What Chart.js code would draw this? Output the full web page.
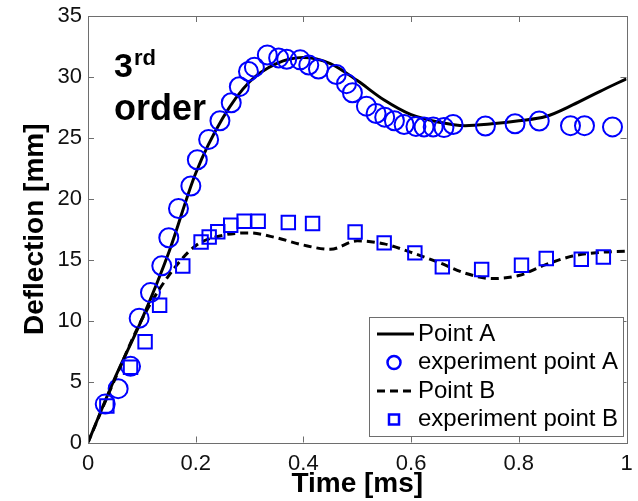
<!DOCTYPE html>
<html>
<head>
<meta charset="utf-8">
<script src="https://cdn.jsdelivr.net/npm/chart.js@4/dist/chart.umd.min.js"></script>
<style>
  html, body { margin: 0; padding: 0; background: #fff; }
  #wrap { width: 638px; height: 501px; }
</style>
</head>
<body>
<div id="wrap"><canvas id="deflectionChart" width="638" height="501"></canvas></div>
<script>
// model curves (time in ms, deflection in mm)
var curveTime = [0, 0.05, 0.1, 0.15, 0.2, 0.25, 0.3, 0.35, 0.4, 0.45, 0.5, 0.55, 0.6, 0.65, 0.7, 0.75, 0.8, 0.85, 0.9, 0.95, 1.0];
var pointA = [0, 5.3, 10.1, 15.6, 22.1, 26.6, 29.6, 31.1, 31.6, 31.1, 29.7, 28.1, 26.9, 26.3, 26.0, 26.15, 26.4, 26.75, 27.7, 28.8, 29.85];
var pointB = [0, 5.2, 10.1, 13.7, 16.15, 17.0, 17.2, 16.8, 16.2, 15.85, 16.55, 16.3, 15.6, 14.8, 13.9, 13.45, 13.7, 14.6, 15.3, 15.6, 15.7];

// experiment, point A
var expATime = [0.032, 0.056, 0.079, 0.095, 0.116, 0.137, 0.150, 0.168, 0.191, 0.203, 0.224, 0.245, 0.266, 0.281, 0.298, 0.309, 0.333, 0.354, 0.369, 0.394, 0.410, 0.428, 0.461, 0.480, 0.491, 0.517, 0.535, 0.551, 0.569, 0.587, 0.609, 0.624, 0.641, 0.661, 0.678, 0.738, 0.793, 0.838, 0.896, 0.922, 0.974];
var expA = [3.15, 4.42, 6.25, 10.2, 12.3, 14.5, 16.8, 19.2, 21.05, 23.2, 24.87, 26.4, 27.88, 29.2, 30.45, 30.8, 31.8, 31.56, 31.45, 31.4, 30.97, 30.65, 30.2, 29.45, 28.7, 27.6, 27.0, 26.7, 26.4, 26.1, 25.94, 25.9, 25.9, 25.84, 26.1, 25.97, 26.16, 26.38, 26.0, 26.0, 25.9];

// experiment, point B
var expBTime = [0.035, 0.079, 0.106, 0.133, 0.176, 0.210, 0.225, 0.241, 0.265, 0.290, 0.316, 0.372, 0.417, 0.496, 0.550, 0.607, 0.658, 0.731, 0.805, 0.851, 0.916, 0.957];
var expB = [3.0, 6.17, 8.27, 11.27, 14.49, 16.45, 16.86, 17.3, 17.83, 18.16, 18.16, 18.05, 17.97, 17.28, 16.38, 15.56, 14.41, 14.2, 14.55, 15.1, 15.04, 15.23];

var xTicks = [0, 0.2, 0.4, 0.6, 0.8, 1];
var yTicks = [0, 5, 10, 15, 20, 25, 30, 35];

var FONT = "'Liberation Sans', Arial, Helvetica, sans-serif";
var BLUE = '#0000ff';

function pairs(xs, ys) {
    return xs.map(function (x, i) { return { x: x, y: ys[i] }; });
}

// MATLAB style box with inward ticks on all four sides
var boxTicks = {
    id: 'boxTicks',
    afterDatasetsDraw: function (chart) {
        var ctx = chart.ctx, a = chart.chartArea;
        var sx = chart.scales.x, sy = chart.scales.y, len = 6;
        ctx.save();
        ctx.strokeStyle = '#6e6e6e';
        ctx.lineWidth = 1;
        ctx.beginPath();
        xTicks.forEach(function (v) {
            var px = Math.round(sx.getPixelForValue(v)) + 0.5;
            ctx.moveTo(px, a.bottom); ctx.lineTo(px, a.bottom - len);
            ctx.moveTo(px, a.top); ctx.lineTo(px, a.top + len);
        });
        yTicks.forEach(function (v) {
            var py = Math.round(sy.getPixelForValue(v)) + 0.5;
            ctx.moveTo(a.left, py); ctx.lineTo(a.left + len, py);
            ctx.moveTo(a.right, py); ctx.lineTo(a.right - len, py);
        });
        ctx.stroke();
        ctx.strokeRect(Math.round(a.left) + 0.5, Math.round(a.top) + 0.5,
            Math.round(a.right - a.left), Math.round(a.bottom - a.top));
        ctx.restore();
    }
};

// legend box inside the axes, lower right
var boxLegend = {
    id: 'boxLegend',
    afterDraw: function (chart) {
        var ctx = chart.ctx;
        var bx = 369.5, by = 317.5, bw = 254, bh = 119;
        ctx.save();
        ctx.fillStyle = '#fff';
        ctx.fillRect(bx, by, bw, bh);
        ctx.strokeStyle = '#6e6e6e';
        ctx.lineWidth = 1;
        ctx.strokeRect(bx, by, bw, bh);
        var rows = [334, 362.5, 391, 419.5];
        chart.data.datasets.forEach(function (ds, i) {
            var y = rows[i];
            if (ds.showLine) {
                ctx.strokeStyle = ds.borderColor;
                ctx.lineWidth = 3;
                ctx.setLineDash(ds.borderDash || []);
                ctx.beginPath();
                ctx.moveTo(377, y); ctx.lineTo(414, y);
                ctx.stroke();
                ctx.setLineDash([]);
            } else {
                ctx.strokeStyle = ds.borderColor;
                ctx.lineWidth = 2.5;
                ctx.beginPath();
                if (ds.pointStyle === 'rect') {
                    ctx.rect(389, y - 5, 10, 10);
                } else {
                    ctx.arc(394, y, 6.5, 0, Math.PI * 2);
                }
                ctx.stroke();
            }
            ctx.fillStyle = '#000';
            ctx.font = '24px ' + FONT;
            ctx.textBaseline = 'middle';
            ctx.textAlign = 'left';
            ctx.fillText(ds.label, 418, y);
        });
        ctx.restore();
    }
};

// "3rd order" note
var orderNote = {
    id: 'orderNote',
    afterDraw: function (chart) {
        var ctx = chart.ctx;
        ctx.save();
        ctx.fillStyle = '#000';
        ctx.textBaseline = 'alphabetic';
        ctx.font = 'bold 34px ' + FONT;
        ctx.fillText('3', 114, 77);
        var w = ctx.measureText('3').width;
        ctx.font = 'bold 22px ' + FONT;
        ctx.fillText('rd', 114 + w + 1, 65);
        ctx.font = 'bold 36px ' + FONT;
        ctx.fillText('order', 114, 120);
        ctx.restore();
    }
};

var ctx = document.getElementById('deflectionChart').getContext('2d');
var chart = new Chart(ctx, {
    type: 'scatter',
    data: {
        datasets: [{
            label: 'Point A',
            data: pairs(curveTime, pointA),
            showLine: true,
            borderColor: '#000',
            borderWidth: 3,
            pointRadius: 0,
            cubicInterpolationMode: 'monotone',
            order: 4
        }, {
            label: 'experiment point A',
            data: pairs(expATime, expA),
            showLine: false,
            pointStyle: 'circle',
            pointRadius: 9.5,
            pointBorderWidth: 2,
            borderColor: BLUE,
            pointBorderColor: BLUE,
            pointBackgroundColor: 'rgba(0,0,0,0)',
            order: 3
        }, {
            label: 'Point B',
            data: pairs(curveTime, pointB),
            showLine: true,
            borderColor: '#000',
            borderWidth: 3,
            borderDash: [8, 5],
            pointRadius: 0,
            cubicInterpolationMode: 'monotone',
            order: 2
        }, {
            label: 'experiment point B',
            data: pairs(expBTime, expB),
            showLine: false,
            pointStyle: 'rect',
            pointRadius: 9.5,
            pointBorderWidth: 2,
            borderColor: BLUE,
            pointBorderColor: BLUE,
            pointBackgroundColor: 'rgba(0,0,0,0)',
            order: 1
        }]
    },
    options: {
        responsive: false,
        animation: false,
        devicePixelRatio: 1,
        layout: { padding: { top: 16, right: 9, left: 0, bottom: 0 } },
        plugins: {
            legend: { display: false },
            tooltip: { enabled: false }
        },
        scales: {
            x: {
                type: 'linear',
                min: 0, max: 1,
                afterFit: function (s) {
                    s.height = 58.5;
                    s.paddingLeft = 0;
                    s.paddingRight = 0;
                },
                grid: { display: false, drawTicks: false },
                border: { display: false },
                ticks: {
                    stepSize: 0.2,
                    padding: 8,
                    color: '#111',
                    font: { family: FONT, size: 22 },
                    maxRotation: 0,
                    callback: function (v) { return String(Math.round(v * 10) / 10); }
                },
                title: {
                    display: true,
                    text: 'Time [ms]',
                    color: '#000',
                    font: { family: FONT, size: 28, weight: 'bold' },
                    padding: { top: 0, bottom: 0 }
                }
            },
            y: {
                type: 'linear',
                min: 0, max: 35,
                afterFit: function (s) {
                    s.width = 88;
                    s.paddingTop = 0;
                    s.paddingBottom = 0;
                },
                grid: { display: false, drawTicks: false },
                border: { display: false },
                ticks: {
                    stepSize: 5,
                    padding: 6,
                    color: '#111',
                    font: { family: FONT, size: 22 }
                },
                title: {
                    display: true,
                    text: 'Deflection [mm]',
                    color: '#000',
                    font: { family: FONT, size: 28, weight: 'bold' },
                    padding: { top: 18, bottom: 0 }
                }
            }
        }
    },
    plugins: [boxTicks, boxLegend, orderNote]
});
</script>
</body>
</html>
